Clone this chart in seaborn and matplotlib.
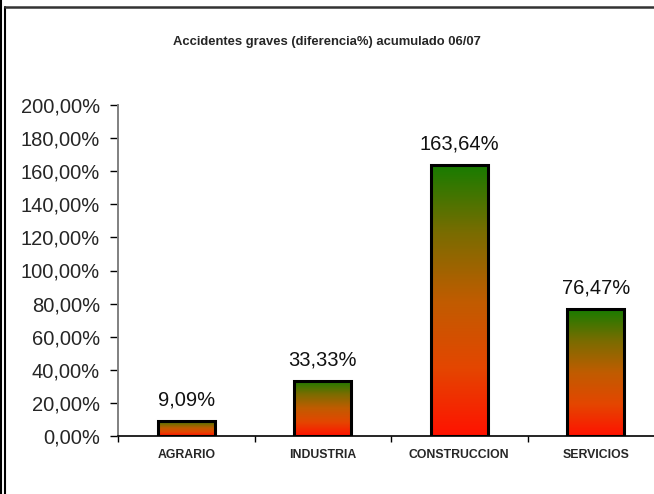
import numpy as np
import pandas as pd
import matplotlib
matplotlib.use("Agg")
import matplotlib.pyplot as plt
from matplotlib.colors import LinearSegmentedColormap
from matplotlib.lines import Line2D
import seaborn as sns

# --- Data ---
categorias = ["AGRARIO", "INDUSTRIA", "CONSTRUCCION", "SERVICIOS"]
valores = [9.09, 33.33, 163.64, 76.47]
ticks_y = [0, 20, 40, 60, 80, 100, 120, 140, 160, 180, 200]

df = pd.DataFrame({"sector": categorias, "valor": valores})

sns.set_style("white")
plt.rcParams["font.family"] = ["Liberation Sans", "DejaVu Sans"]

fig = plt.figure(figsize=(6.54, 4.94), dpi=100)
# axes run past the right edge, like the cropped original
ax = fig.add_axes([118 / 654, 58 / 494, 546 / 654, 331 / 494])

sns.barplot(data=df, x="sector", y="valor", ax=ax, width=0.42,
            facecolor="none", edgecolor="black", linewidth=2.2, zorder=3)

# --- gradient fill per bar (green top -> red bottom) ---
cmap = LinearSegmentedColormap.from_list(
    "verde_rojo", ["#ff1200", "#e44600", "#c05c00", "#7a6c00", "#187c00"])
grad = np.linspace(0, 1, 256).reshape(-1, 1)
for p in ax.patches:
    x0, y0 = p.get_x(), p.get_y()
    w, h = p.get_width(), p.get_height()
    ax.imshow(grad, extent=[x0, x0 + w, y0, y0 + h], origin="lower",
              aspect="auto", cmap=cmap, zorder=2)

# --- value labels ---
for i, v in enumerate(valores):
    ax.text(i, v + 7, f"{v:.2f}%".replace(".", ","), ha="center", va="bottom",
            fontsize=14.5, color="#111111")

ax.set_xlim(-0.5, 3.5)
ax.set_ylim(0, 200)
ax.set_yticks(ticks_y)
ax.set_yticklabels([f"{t:.2f}%".replace(".", ",") for t in ticks_y], fontsize=14.5)
ax.set_xticks(range(len(categorias)))
ax.set_xticklabels(categorias, fontsize=8.8, fontweight="bold")
ax.set_xticks(np.arange(-0.5, 4.0, 1.0), minor=True)
ax.tick_params(axis="x", which="major", bottom=False, length=0, pad=9)
ax.tick_params(axis="x", which="minor", bottom=True, length=4, width=1,
               direction="out", color="black")
ax.tick_params(axis="y", left=True, length=6, width=1, direction="out",
               color="black", pad=7)
ax.set_xlabel("")
ax.set_ylabel("")

for s in ["top", "right"]:
    ax.spines[s].set_visible(False)
ax.spines["left"].set_color("#808080")
ax.spines["left"].set_linewidth(1.4)
ax.spines["bottom"].set_color("black")
ax.spines["bottom"].set_linewidth(1.2)

fig.text(0.5, 1 - 42 / 494, "Accidentes graves (diferencia%) acumulado 06/07",
         ha="center", va="center", fontsize=9.4, fontweight="bold")

# --- figure frame (left double line, top line) ---
W, H = 654, 494
fig.add_artist(Line2D([1 / W, 1 / W], [0, 1], transform=fig.transFigure,
                      color="black", linewidth=1.5))
fig.add_artist(Line2D([4.5 / W, 4.5 / W], [0, 1 - 7 / H], transform=fig.transFigure,
                      color="black", linewidth=1.5))
fig.add_artist(Line2D([4.5 / W, 1], [1 - 7 / H, 1 - 7 / H], transform=fig.transFigure,
                      color="#333333", linewidth=1.8))

fig.savefig("out.png", dpi=100)
